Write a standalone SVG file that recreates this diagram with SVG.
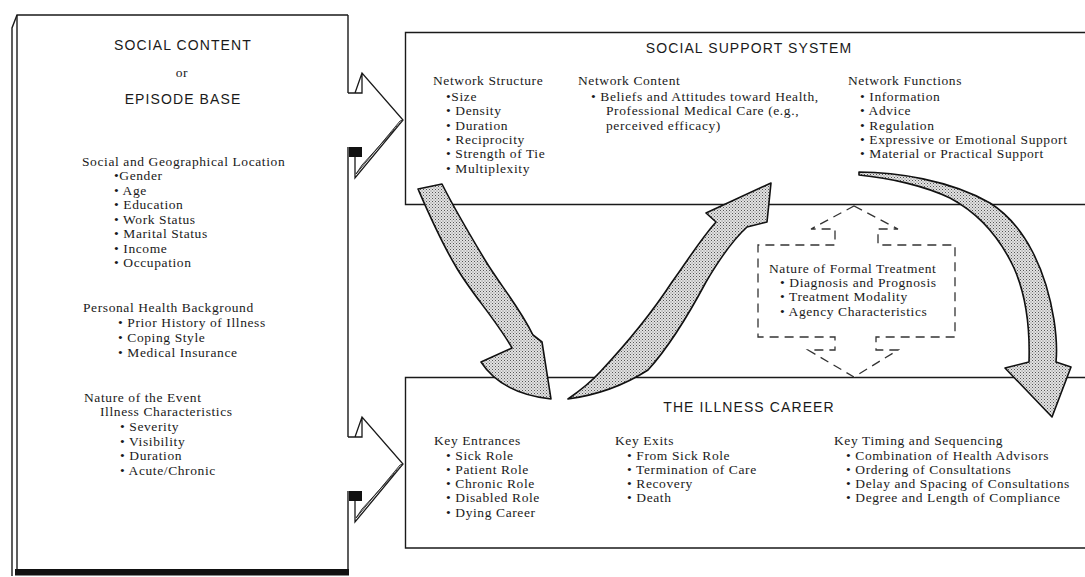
<svg xmlns="http://www.w3.org/2000/svg" width="1085" height="577" viewBox="0 0 1085 577">
<style>
.b{font-family:"Liberation Serif",serif;font-size:13.5px;letter-spacing:0.6px;fill:#1a1a1a}
.t{font-family:"Liberation Sans",sans-serif;font-size:14px;letter-spacing:1.1px;fill:#1a1a1a;text-anchor:middle}
.ln{stroke:#1a1a1a;stroke-width:1.4;fill:none}
.dash{stroke:#333;stroke-width:1.3;fill:#fff;stroke-dasharray:9 6}
.big{fill:url(#stip);stroke:#111;stroke-width:1.6;stroke-linejoin:round}
.hol{stroke:#1a1a1a;stroke-width:1.3;fill:none;stroke-linejoin:miter}
</style>
<defs>
<pattern id="stip" width="3" height="3" patternUnits="userSpaceOnUse">
<rect width="3" height="3" fill="#e2e2e2"/>
<rect x="0" y="0" width="1" height="1" fill="#555"/>
<rect x="1.5" y="1.5" width="1" height="1" fill="#777"/>
</pattern>
</defs>
<rect width="1085" height="577" fill="#fff"/>

<g id="episode-base">
<path class="ln" d="M348,15 H17 L12,28 V576"/>
<path class="ln" d="M17,15 V570"/>
<path class="ln" d="M348,15 V93 M348,147 V437 M348,491 V570"/>
<rect x="15" y="569" width="334" height="6.5" fill="#111"/>
<text class="t" x="183" y="50">SOCIAL CONTENT</text>
<text class="b" x="182" y="77" text-anchor="middle">or</text>
<text class="t" x="183" y="104">EPISODE BASE</text>
<text class="b" x="82" y="166">Social and Geographical Location</text>
<text class="b" x="114" y="180">•Gender</text>
<text class="b" x="114" y="194.5">• Age</text>
<text class="b" x="114" y="209">• Education</text>
<text class="b" x="114" y="223.5">• Work Status</text>
<text class="b" x="114" y="238">• Marital Status</text>
<text class="b" x="114" y="252.5">• Income</text>
<text class="b" x="114" y="267">• Occupation</text>
<text class="b" x="83" y="312">Personal Health Background</text>
<text class="b" x="118" y="327">• Prior History of Illness</text>
<text class="b" x="118" y="342">• Coping Style</text>
<text class="b" x="118" y="357">• Medical Insurance</text>
<text class="b" x="84" y="402">Nature of the Event</text>
<text class="b" x="100" y="416">Illness Characteristics</text>
<text class="b" x="120" y="431">• Severity</text>
<text class="b" x="120" y="446">• Visibility</text>
<text class="b" x="120" y="460">• Duration</text>
<text class="b" x="120" y="475">• Acute/Chronic</text>
</g>

<g id="social-support">
<path class="ln" d="M1085,32.5 H405.5 V204.5 H1085"/>
<text class="t" x="749" y="53">SOCIAL SUPPORT SYSTEM</text>
<text class="b" x="433" y="85">Network Structure</text>
<text class="b" x="446" y="101">•Size</text>
<text class="b" x="446" y="115">• Density</text>
<text class="b" x="446" y="130">• Duration</text>
<text class="b" x="446" y="144">• Reciprocity</text>
<text class="b" x="446" y="158">• Strength of Tie</text>
<text class="b" x="446" y="173">• Multiplexity</text>
<text class="b" x="578" y="85">Network Content</text>
<text class="b" x="591" y="101">• Beliefs and Attitudes toward Health,</text>
<text class="b" x="606" y="115">Professional Medical Care (e.g.,</text>
<text class="b" x="606" y="130">perceived efficacy)</text>
<text class="b" x="848" y="85">Network Functions</text>
<text class="b" x="860" y="101">• Information</text>
<text class="b" x="860" y="115">• Advice</text>
<text class="b" x="860" y="130">• Regulation</text>
<text class="b" x="860" y="144">• Expressive or Emotional Support</text>
<text class="b" x="860" y="158">• Material or Practical Support</text>
</g>

<g id="illness-career">
<path class="ln" d="M1085,377.5 H405.5 V548 H1085"/>
<text class="t" x="749" y="412">THE ILLNESS CAREER</text>
<text class="b" x="434" y="445">Key Entrances</text>
<text class="b" x="446" y="460">• Sick Role</text>
<text class="b" x="446" y="474">• Patient Role</text>
<text class="b" x="446" y="488">• Chronic Role</text>
<text class="b" x="446" y="502">• Disabled Role</text>
<text class="b" x="446" y="517">• Dying Career</text>
<text class="b" x="615" y="445">Key Exits</text>
<text class="b" x="627" y="460">• From Sick Role</text>
<text class="b" x="627" y="474">• Termination of Care</text>
<text class="b" x="627" y="488">• Recovery</text>
<text class="b" x="627" y="502">• Death</text>
<text class="b" x="834" y="445">Key Timing and Sequencing</text>
<text class="b" x="846" y="460">• Combination of Health Advisors</text>
<text class="b" x="846" y="474">• Ordering of Consultations</text>
<text class="b" x="846" y="488">• Delay and Spacing of Consultations</text>
<text class="b" x="846" y="502">• Degree and Length of Compliance</text>
</g>

<g id="formal-treatment">
<polygon class="dash" points="854,206 898,229 878,229 878,245 955,245 955,337 876,337 876,350 898,350 854,377 808,350 835,350 835,337 758,337 758,245 835,245 835,229 811,229"/>
<text class="b" x="769" y="273">Nature of Formal Treatment</text>
<text class="b" x="780" y="287">• Diagnosis and Prognosis</text>
<text class="b" x="780" y="301">• Treatment Modality</text>
<text class="b" x="780" y="316">• Agency Characteristics</text>
</g>

<g id="connectors">
<g id="hollow-top">
<polygon points="355,93 362,73 403,120 355,178" fill="#fff"/>
<path class="hol" d="M348,93 H362 V73 M355,93 L362,73 L403,120 L355,178 V157"/>
<polygon points="356,174 400,121 403,120 362,165" fill="url(#stip)" stroke="#222" stroke-width="0.9"/>
<rect x="349" y="147" width="13" height="10" fill="#111"/>
</g>
<g id="hollow-bottom" transform="translate(0,344)">
<polygon points="355,93 362,73 403,120 355,178" fill="#fff"/>
<path class="hol" d="M348,93 H362 V73 M355,93 L362,73 L403,120 L355,178 V157"/>
<polygon points="356,174 400,121 403,120 362,165" fill="url(#stip)" stroke="#222" stroke-width="0.9"/>
<rect x="349" y="147" width="13" height="10" fill="#111"/>
</g>
<path id="arrow-down-left" class="big" d="M418,189 C428,212 440,240 455,265 C470,292 495,318 512,348 L481,362 C494,382 516,395 551,399 C548,380 545,360 542,342 L533,335 C518,305 500,285 485,260 C470,235 455,210 442,184 Z"/>
<path id="arrow-up-mid" class="big" d="M568,399 C590,396 620,388 648,370 C668,348 690,312 706,282 C720,258 733,240 747,227 L767,222 L771,183 L706,213 L716,222 C700,240 688,260 672,282 C655,308 630,340 600,372 C590,383 578,392 568,399 Z"/>
<path id="arrow-down-right" class="big" d="M859,172 C895,172 950,180 990,203 C1025,225 1046,270 1054,320 C1057,340 1057,352 1056,362 L1071,367 L1052,417 L1005,368 L1029,362 C1030,330 1026,295 1014,268 C1000,238 980,214 950,198 C925,186 890,178 859,175 Z"/>
</g>
</svg>
